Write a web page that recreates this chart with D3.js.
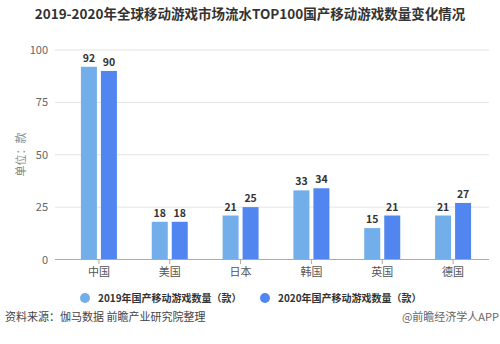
<!DOCTYPE html>
<html><head><meta charset="utf-8">
<script src="https://cdn.jsdelivr.net/npm/d3@7"></script>
<style>body{margin:0;background:#fff}svg{display:block;font-family:"Noto Sans CJK SC","Noto Sans",sans-serif}</style>
</head><body><svg id="c" width="500" height="344"></svg>
<script>
const categories = ["中国","美国","日本","韩国","英国","德国"];
const values2019 = [92,18,21,33,15,21];
const values2020 = [90,18,25,34,21,27];
const seriesNames = ["2019年国产移动游戏数量（款）","2020年国产移动游戏数量（款）"];
const yTicks = [0,25,50,75,100];
const colors = ["#72aeea","#5186f0"];

const svg = d3.select("#c");
const x = d3.scaleBand().domain(categories).range([63.5,488.5]);
const y = d3.scaleLinear().domain([0,100]).range([259.5,50]);
const barW = 16, gap = 4;

svg.append("text").attr("x",250).attr("y",19).attr("text-anchor","middle")
  .attr("font-size",13.5).attr("font-weight","bold").attr("fill","#333")
  .text("2019-2020年全球移动游戏市场流水TOP100国产移动游戏数量变化情况");

// grid
svg.append("g").selectAll("line").data(yTicks.filter(d=>d>0)).join("line")
  .attr("x1",55).attr("x2",489).attr("y1",d=>y(d)).attr("y2",d=>y(d))
  .attr("stroke","#e3e3e3").attr("stroke-width",1);
svg.append("g").selectAll("text").data(yTicks).join("text")
  .attr("x",48).attr("y",d=>y(d)+4).attr("text-anchor","end")
  .attr("font-size",11).attr("fill","#666").text(d=>d);

svg.append("text").attr("transform","translate(25,154.5) rotate(-90)")
  .attr("text-anchor","middle").attr("font-size",11).attr("fill","#888").text("单位：款");

const series = [values2019, values2020];
series.forEach((vals,si)=>{
  const off = si===0 ? -gap/2-barW : gap/2;
  const g = svg.append("g");
  g.selectAll("rect").data(categories).join("rect")
    .attr("x",(d)=>x(d)+x.bandwidth()/2+off)
    .attr("width",barW)
    .attr("y",(d,i)=>y(vals[i]))
    .attr("height",(d,i)=>y(0)-y(vals[i]))
    .attr("fill",colors[si]);
  g.selectAll("text").data(categories).join("text")
    .attr("x",(d)=>x(d)+x.bandwidth()/2+off+barW/2)
    .attr("y",(d,i)=>y(vals[i])-5)
    .attr("text-anchor","middle").attr("font-size",10.5).attr("font-weight","bold")
    .attr("fill","#333").text((d,i)=>vals[i]);
});

// x axis
svg.append("line").attr("x1",55).attr("x2",489).attr("y1",259.5).attr("y2",259.5)
  .attr("stroke","#aaa");
svg.append("g").selectAll("line").data(categories).join("line")
  .attr("x1",d=>x(d)+x.bandwidth()/2).attr("x2",d=>x(d)+x.bandwidth()/2)
  .attr("y1",259.5).attr("y2",264).attr("stroke","#aaa");
svg.append("g").selectAll("text").data(categories).join("text")
  .attr("x",d=>x(d)+x.bandwidth()/2).attr("y",276).attr("text-anchor","middle")
  .attr("font-size",11).attr("fill","#555").text(d=>d);

// legend
const legX = [85,265];
seriesNames.forEach((n,i)=>{
  svg.append("circle").attr("cx",legX[i]).attr("cy",298).attr("r",5).attr("fill",colors[i]);
  svg.append("text").attr("x",legX[i]+13).attr("y",301.5).attr("font-size",10)
    .attr("font-weight","bold").attr("fill","#333").text(n);
});

svg.append("text").attr("x",5).attr("y",321).attr("font-size",11).attr("fill","#444")
  .text("资料来源：伽马数据 前瞻产业研究院整理");
svg.append("text").attr("x",499).attr("y",321).attr("text-anchor","end").attr("font-size",11)
  .attr("fill","#666").text("@前瞻经济学人APP");
</script></body></html>
